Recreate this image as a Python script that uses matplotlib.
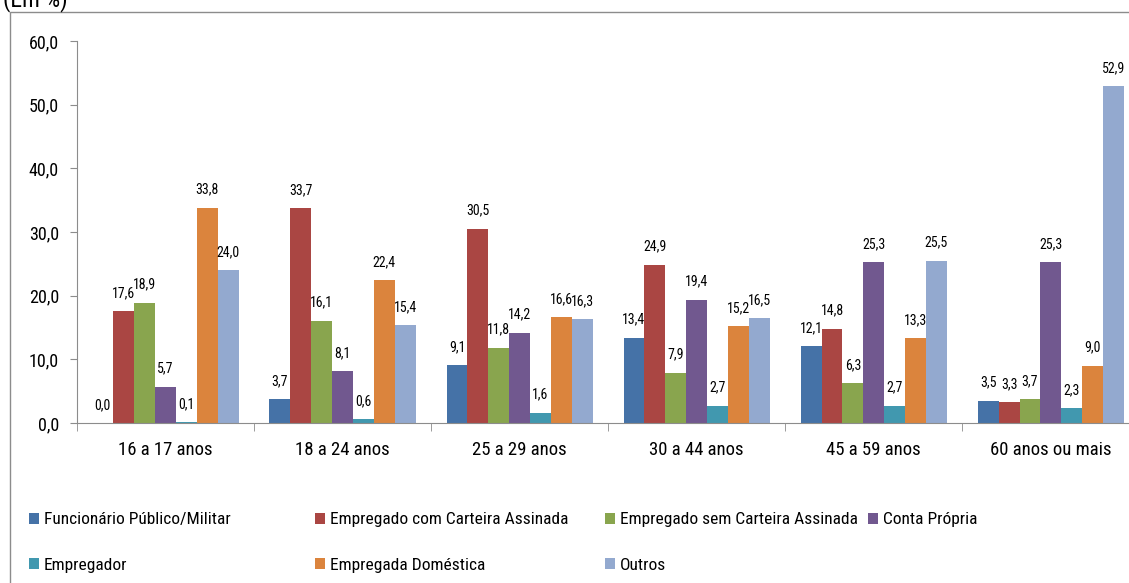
import numpy as np
import matplotlib
matplotlib.use("Agg")
from matplotlib import pyplot as plt
from matplotlib import font_manager
from matplotlib.patches import Rectangle

grupos = ["16 a 17 anos", "18 a 24 anos", "25 a 29 anos",
          "30 a 44 anos", "45 a 59 anos", "60 anos ou mais"]

series = ["Funcionário Público/Militar", "Empregado com Carteira Assinada",
          "Empregado sem Carteira Assinada", "Conta Própria",
          "Empregador", "Empregada Doméstica", "Outros"]

funcionario = [0.0, 3.7, 9.1, 13.4, 12.1, 3.5]
com_carteira = [17.6, 33.7, 30.5, 24.9, 14.8, 3.3]
sem_carteira = [18.9, 16.1, 11.8, 7.9, 6.3, 3.7]
conta_propria = [5.7, 8.1, 14.2, 19.4, 25.3, 25.3]
empregador = [0.1, 0.6, 1.6, 2.7, 2.7, 2.3]
domestica = [33.8, 22.4, 16.6, 15.2, 13.3, 9.0]
outros = [24.0, 15.4, 16.3, 16.5, 25.5, 52.9]

valores = [funcionario, com_carteira, sem_carteira, conta_propria,
           empregador, domestica, outros]

cores = ["#4572A7", "#AA4643", "#89A54E", "#71588F",
         "#4198AF", "#DB843D", "#93A9CF"]

nomes = {f.name for f in font_manager.fontManager.ttflist}
for fam in ["Liberation Sans Narrow", "Roboto Condensed", "Open Sans Condensed"]:
    if fam in nomes:
        plt.rcParams["font.family"] = [fam, "DejaVu Sans"]
        break
else:
    plt.rcParams["font.family"] = ["DejaVu Sans"]
    plt.rcParams["font.stretch"] = "condensed"

fig = plt.figure(figsize=(11.29, 5.83), dpi=100)
ax = fig.add_axes([0.0682, 0.2744, 0.941, 0.6552])

# moldura do gráfico
fig.patches.append(Rectangle((0.009, -0.05), 1.2, 1.03, transform=fig.transFigure,
                             fill=False, edgecolor="#8c8c8c", linewidth=1.0))
fig.text(0.003, 1.0, "(Em %)", fontsize=17, ha="left", va="center")

x = np.arange(len(grupos))
n = len(series)
largura = 0.118
barras_series = []
for i, (nome, vals, cor) in enumerate(zip(series, valores, cores)):
    pos = x + (i - (n - 1) / 2) * largura
    barras = ax.bar(pos, vals, width=largura, color=cor, label=nome)
    barras_series.append(barras)
    for b, v in zip(barras, vals):
        ax.annotate(f"{v:.1f}".replace(".", ","), (b.get_x() + b.get_width() / 2, v),
                    xytext=(0, 8), textcoords="offset points",
                    ha="center", va="bottom", fontsize=10)

ax.set_xlim(-0.5, len(grupos) - 0.5)
ax.set_ylim(0, 60)
ax.set_yticks(np.arange(0, 61, 10))
ax.set_yticklabels([f"{t:.1f}".replace(".", ",") for t in np.arange(0, 61, 10)], fontsize=13)
ax.set_xticks(x)
ax.set_xticklabels(grupos, fontsize=13.5)
ax.set_xticks(np.arange(-0.5, len(grupos), 1), minor=True)
ax.tick_params(axis="x", which="major", length=0, pad=13)
ax.tick_params(axis="x", which="minor", length=6, color="#8c8c8c")
ax.tick_params(axis="y", length=5, color="#8c8c8c", pad=8)

for lado in ["top", "right"]:
    ax.spines[lado].set_visible(False)
for lado in ["left", "bottom"]:
    ax.spines[lado].set_color("#8c8c8c")

# legenda em 4 colunas de largura fixa, preenchida por linhas
colunas_x = [0.026, 0.279, 0.536, 0.769]
for c, xc in enumerate(colunas_x):
    idx = [c, c + 4] if c + 4 < n else [c]
    leg = fig.legend([barras_series[k] for k in idx], [series[k] for k in idx],
                     loc="upper left", bbox_to_anchor=(xc, 0.121), frameon=False,
                     fontsize=12.5, handlelength=0.55, handleheight=0.55,
                     handletextpad=0.3, labelspacing=1.75, borderpad=0, borderaxespad=0)

fig.savefig("out.png", dpi=100)
